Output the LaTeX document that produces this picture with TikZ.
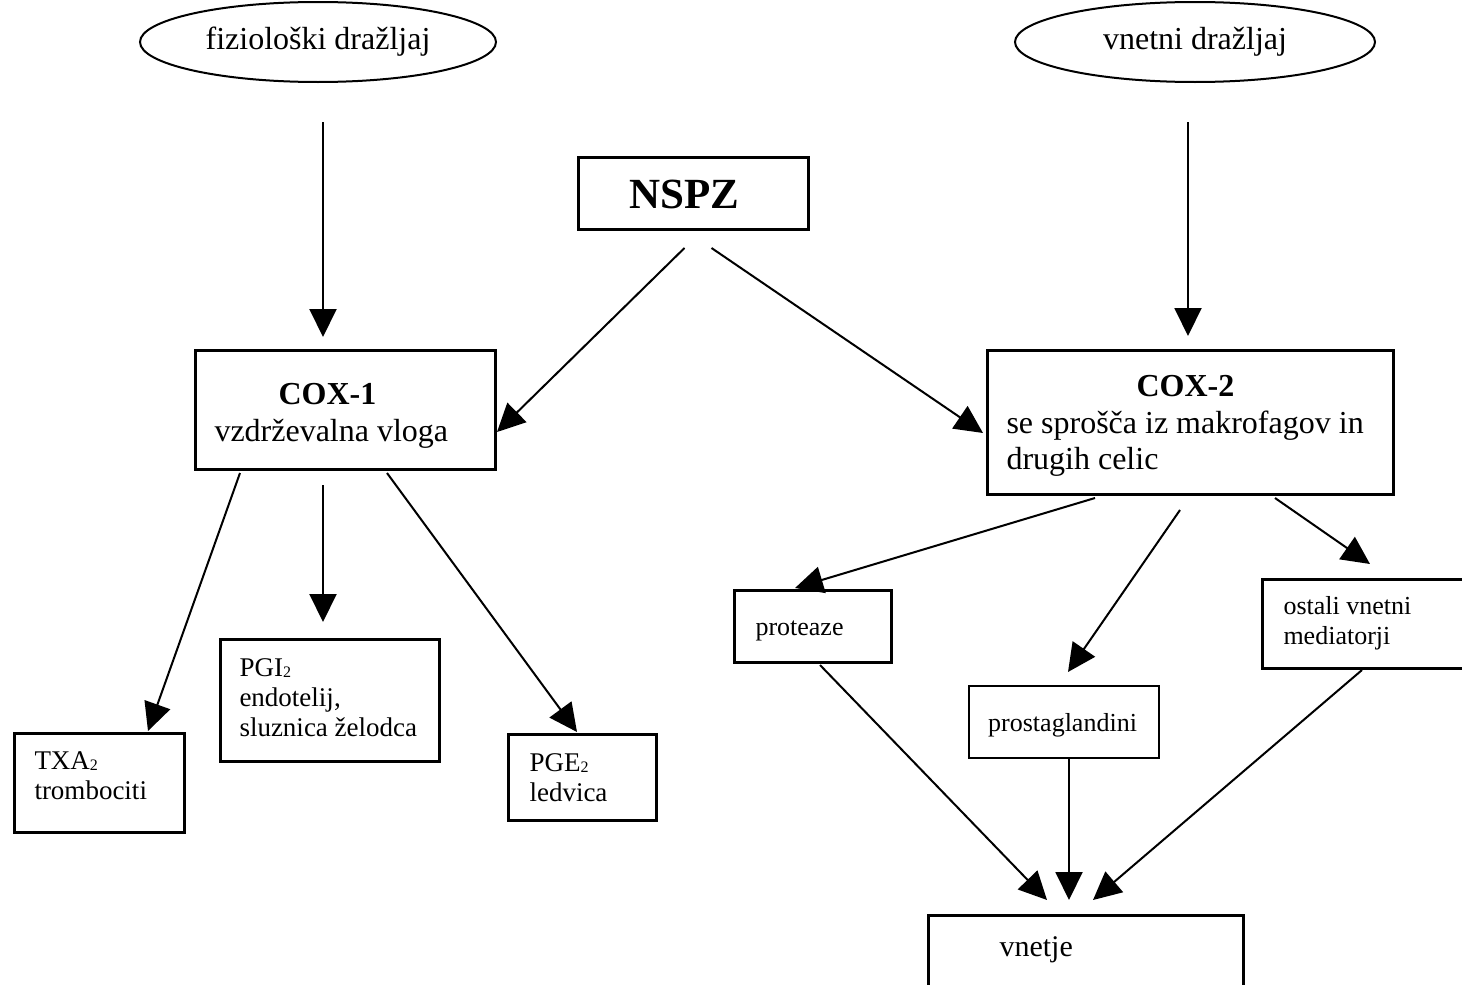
\documentclass[tikz,border=0pt]{standalone}
\usepackage{fontspec}
\setmainfont{Liberation Serif}
\usetikzlibrary{shapes,arrows.meta}
\newcommand{\sub}[1]{\raisebox{-1pt}{\fontsize{16}{16}\selectfont #1}}

\begin{document}
\begin{tikzpicture}[x=1pt,y=-1pt]
\tikzstyle{every node}=[draw, line width=3pt, inner ysep=0pt,
                        align=flush left, anchor=north west]
\tikzstyle{stim}=[ellipse, line width=2pt, anchor=center, align=center,
                  minimum width=356pt, minimum height=80pt,
                  font=\fontsize{32}{37}\selectfont]
\tikzstyle{big}=[font=\fontsize{32}{37}\selectfont]
\tikzstyle{small}=[font=\fontsize{27}{30}\selectfont]
\tikzstyle{tiny}=[font=\fontsize{26}{30}\selectfont]
\tikzstyle{arr}=[line width=2pt, -{Triangle[length=28pt,width=27pt]}]
\useasboundingbox (0,0) rectangle (1462,985);
\clip (0,0) rectangle (1462,985);
\node[stim] (fiz) at (318,42){fiziološki dražljaj};
\node[stim, minimum width=360pt] (vnet) at (1195,42){vnetni dražljaj};
\node[inner xsep=51pt, text width=128pt, text height=51pt, text depth=21pt,
      font=\fontsize{43}{46}\selectfont\bfseries] (nspz) at (577,156){NSPZ};
\node[big, inner xsep=19pt, text width=262pt, text height=54pt, text depth=65pt]
      (cox1) at (194,349){\hspace*{64pt}\textbf{COX-1}\\vzdrževalna vloga};
\node[big, font=\fontsize{32}{36.5}\selectfont, inner xsep=19pt, text width=368pt,
      text height=46pt, text depth=98pt]
      (cox2) at (986,349){\hspace*{130pt}\textbf{COX-2}\\se sprošča iz makrofagov in\\drugih celic};
\node[small, inner xsep=20pt, text width=130pt, text height=36pt, text depth=63pt]
      (txa) at (13,732){TXA\sub{2}\\trombociti};
\node[small, inner xsep=19pt, text width=181pt, text height=37pt, text depth=85pt]
      (pgi) at (219,638){PGI\sub{2}\\endotelij,\\sluznica želodca};
\node[small, inner xsep=21pt, text width=106pt, text height=37pt, text depth=49pt]
      (pge) at (507,733){PGE\sub{2}\\ledvica};
\node[tiny, inner xsep=21pt, text width=115pt, text height=45pt, text depth=27pt]
      (prot) at (733,589){proteaze};
\node[tiny, line width=2.4pt, inner xsep=19pt, text width=152pt, text height=45pt, text depth=27pt]
      (prost) at (968,685){prostaglandini};
\node[tiny, inner xsep=21pt, text width=177pt, text height=35pt, text depth=54pt]
      (ost) at (1261,578){ostali vnetni\\mediatorji};
\node[font=\fontsize{30}{34}\selectfont, inner xsep=71pt, text width=173pt,
      text height=41pt, text depth=45pt] (vnetje) at (927,914){vnetje};
\foreach \a/\ax/\ay/\b/\bx/\by in {fiz.south/5/39/cox1.north west/129/-12,
  vnet.south/-7/39/cox2.north west/202/-13,
  nspz.south/-9/17/cox1.north east/0/83,
  nspz.south/18/17/cox2.north west/-3/84,
  cox1.south west/46/2/txa.north west/135/-1,
  cox1.south west/129/14/pgi.north west/104/-16,
  cox1.south west/193/2/pge.north west/70/-1,
  cox2.south west/109/2/prot.north west/62/-1,
  cox2.south west/194/14/prost.north west/100/-13,
  cox2.south west/289/2/ost.north west/109/-14,
  prot.south west/87/1/vnetje.north west/120/-14,
  prost.south west/101/0/vnetje.north west/142/-14,
  ost.south west/101/0/vnetje.north west/166/-14}{\draw[arr] ([shift={(\ax,\ay)}]\a) -- ([shift={(\bx,\by)}]\b);}
\end{tikzpicture}
\end{document}
